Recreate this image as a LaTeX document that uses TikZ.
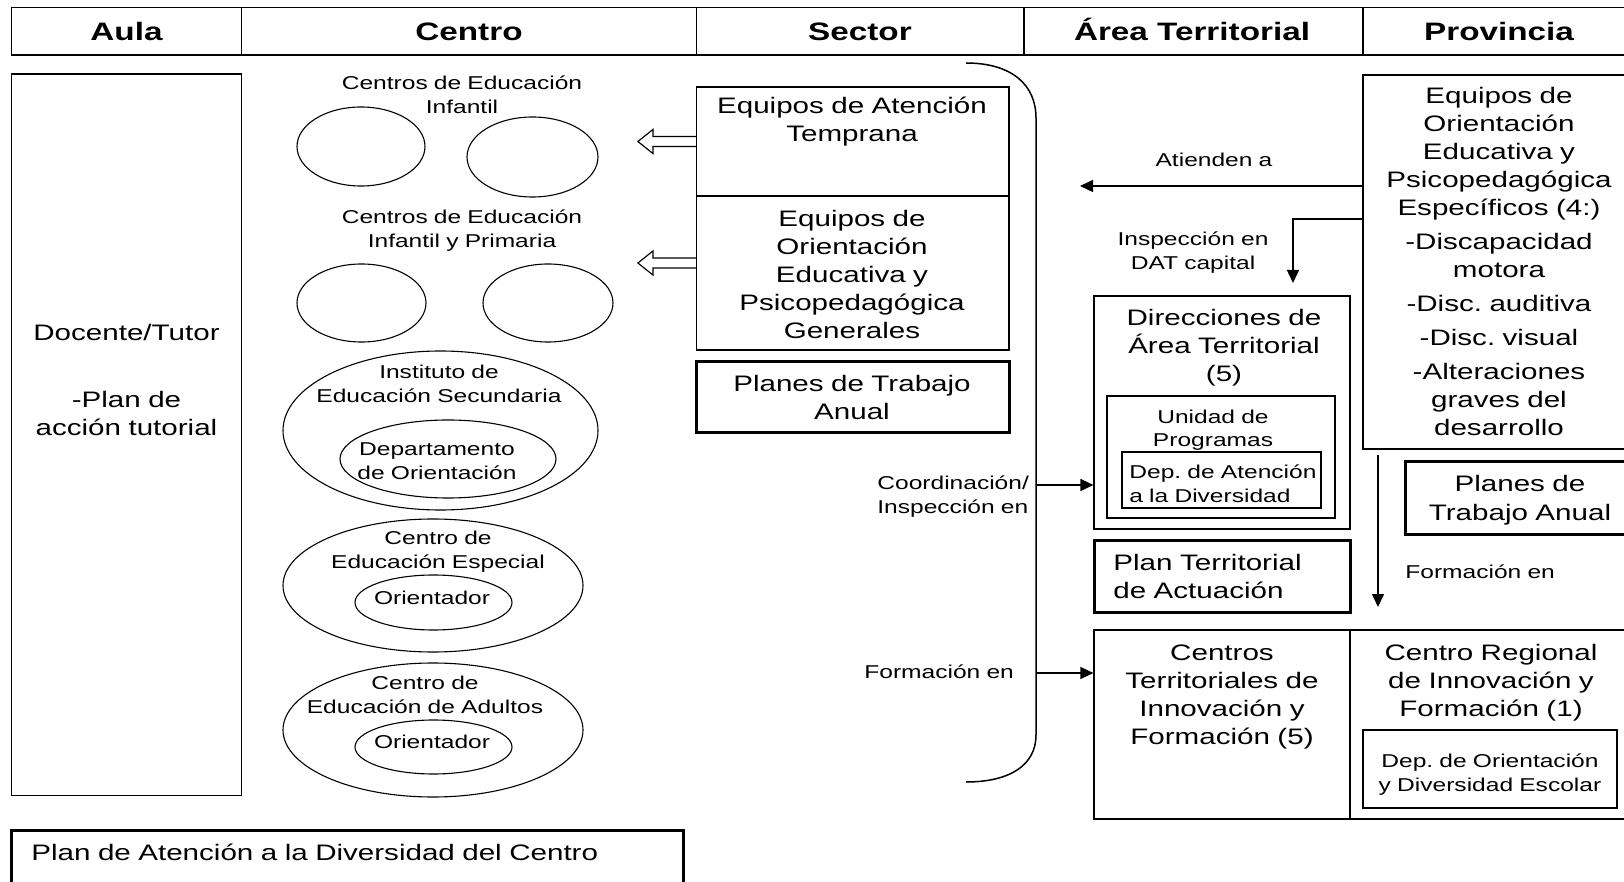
\documentclass[tikz,border=0pt]{standalone}
\usepackage{fontspec}
\setmainfont{Liberation Sans}[FakeStretch=1.32]
\usetikzlibrary{arrows.meta,shapes.geometric,fit,calc}
\frenchspacing

\tikzset{
  boxline/.style={draw, line width=0.6pt, inner sep=0pt},
  heavybox/.style={draw, line width=1.5pt, inner sep=0pt},
  oval/.style={draw, ellipse, line width=0.55pt, inner sep=0pt},
  bigtext/.style={font=\fontsize{11.2}{14}\selectfont, inner sep=0pt, anchor=base, align=center, text width=170pt},
  smalltext/.style={font=\fontsize{9.3}{12}\selectfont, inner sep=0pt, anchor=base, align=center, text width=170pt},
  lft/.style={anchor=base west, align=left, text width=320pt},
  hdr/.style={font=\fontsize{12.6}{15}\selectfont\bfseries, inner sep=0pt, anchor=base},
  link/.style={line width=0.75pt, -{Triangle[length=6.5pt,width=6pt]}},
  hollow/.style={line width=0.6pt, line join=miter},
  brace/.style={line width=0.75pt},
}

\begin{document}
\begin{tikzpicture}[x=0.5pt,y=-0.5pt]
\useasboundingbox (0,0) rectangle (1624,882);
\clip (0,0) rectangle (1624,882);

% ---------- header row ----------
\node[boxline, fit={(11.5,7.5) (241.5,55)}] (hAula) {};
\node[boxline, fit={(241.5,7.5) (696.5,55)}] (hCentro) {};
\node[boxline, fit={(696.5,7.5) (1024,55)}] (hSector) {};
\node[boxline, fit={(1024,7.5) (1363,55)}] (hArea) {};
\node[boxline, fit={(1363,7.5) (1650,55)}] (hProv) {};
\node[hdr] (tAula) at (126.5,41) {Aula};
\node[hdr] (tCentro) at (469,41) {Centro};
\node[hdr] (tSector) at (860,41) {Sector};
\node[hdr] (tArea) at (1192,41) {Área Territorial};
\node[hdr] (tProv) at (1499,41) {Provincia};

% ---------- Aula ----------
\node[boxline, fit={(11.5,74) (241.5,795.5)}] (aula) {};
\node[bigtext] (tDoc) at (126.5,341) {Docente/Tutor\\[19.5pt]-Plan de\\acción tutorial};

\node[heavybox, fit={(11.5,830) (683.5,900)}] (pad) {};
\node[bigtext, lft] (tPad) at (31,860) {Plan de Atención a la Diversidad del Centro};

% ---------- Centro ----------
\node[smalltext] (tInf) at (462,89.5) {Centros de Educación\\Infantil};
\node[oval, minimum width=64pt, minimum height=39.5pt] (ei1) at (361,146.5) {};
\node[oval, minimum width=65.5pt, minimum height=40pt] (ei2) at (532.5,157) {};

\node[smalltext] (tPri) at (462,224) {Centros de Educación\\Infantil y Primaria};
\node[oval, minimum width=64.5pt, minimum height=39pt] (ep1) at (361.5,303) {};
\node[oval, minimum width=65pt, minimum height=39pt] (ep2) at (548,303) {};

\node[oval, minimum width=157.5pt, minimum height=79.5pt] (ies) at (440.5,430.5) {};
\node[smalltext] (tIes) at (439,379) {Instituto de\\Educación Secundaria};
\node[oval, minimum width=108pt, minimum height=39pt] (dor) at (448,459) {};
\node[smalltext] (tDor) at (437,456) {Departamento\\de Orientación};

\node[oval, minimum width=150pt, minimum height=66.5pt] (cee) at (433,585.5) {};
\node[smalltext] (tCee) at (438,545) {Centro de\\Educación Especial};
\node[oval, minimum width=78.5pt, minimum height=27.5pt] (or1) at (433.5,602.5) {};
\node[smalltext] (tOr1) at (432,604) {Orientador};

\node[oval, minimum width=150pt, minimum height=67pt] (cea) at (433,730) {};
\node[smalltext] (tCea) at (425,689) {Centro de\\Educación de Adultos};
\node[oval, minimum width=78.5pt, minimum height=27pt] (or2) at (433.5,747) {};
\node[smalltext] (tOr2) at (432,748) {Orientador};

% ---------- Sector ----------
\node[boxline, fit={(696.5,87) (1009,196)}] (eat) {};
\node[boxline, fit={(696.5,196) (1009,350)}] (eog) {};
\node[bigtext] (tEat) at (852,114) {Equipos de Atención\\Temprana};
\node[bigtext] (tEog) at (852,226.5) {Equipos de\\Orientación\\Educativa y\\Psicopedagógica\\Generales};
\node[heavybox, fit={(696.5,362) (1009,433)}] (pts) {};
\node[bigtext] (tPts) at (852,392) {Planes de Trabajo\\Anual};

% open arrows pointing to the schools
\draw[hollow] (eat.west) ++(0,-5) -- ++(-43,0) -- ++(0,-7) -- ++(-15,12)
  -- ++(15,12) -- ++(0,-7) -- ++(43,0);
\draw[hollow] ($(eog.west)+(0,-10)$) ++(0,-5) -- ++(-43,0) -- ++(0,-7) -- ++(-15,12)
  -- ++(15,12) -- ++(0,-7) -- ++(43,0);

% bracket closing the sector column
\draw[brace] (966,63) .. controls (1012,63) and (1036,85) .. (1036,118)
  -- (1036,735) .. controls (1036,765) and (1010,782) .. (966,782);
\coordinate (b1) at (1036,485);
\coordinate (b2) at (1036,673);

\node[smalltext, lft] (tCoo) at (877,489.5) {Coordinación/\\Inspección en};
\node[smalltext, lft] (tFs) at (864,678.5) {Formación en};

% ---------- Área Territorial ----------
\node[boxline, fit={(1094,296) (1350,529)}] (dat) {};
\node[bigtext] (tDat) at (1224,326) {Direcciones de\\Área Territorial\\(5)};
\node[boxline, fit={(1107,396) (1335,518)}] (uni) {};
\node[smalltext] (tUni) at (1213,423) {Unidad de\\Programas};
\node[boxline, fit={(1122,452) (1321,508)}] (dad) {};
\node[smalltext, lft] (tDad) at (1129,479) {Dep. de Atención\\a la Diversidad};

\node[heavybox, fit={(1094,540) (1350,612)}] (pta) {};
\node[bigtext, lft] (tPta) at (1113,570) {Plan Territorial\\de Actuación};

\node[boxline, fit={(1094,630) (1350,819)}] (cti) {};
\node[bigtext] (tCti) at (1222,660.5) {Centros\\Territoriales de\\Innovación y\\Formación (5)};

\draw[link] (b1) -- (dat.west |- b1);
\draw[link] (b2) -- (cti.west |- b2);

% ---------- Provincia ----------
\node[boxline, fit={(1363,75) (1650,449)}] (eoe) {};
\node[bigtext] (tEoe) at (1499,104) {Equipos de\\Orientación\\Educativa y\\Psicopedagógica\\Específicos (4:)\\[3pt]-Discapacidad\\motora\\[3pt]-Disc. auditiva\\[3pt]-Disc. visual\\[3pt]-Alteraciones\\graves del\\desarrollo};

\node[heavybox, fit={(1405,462) (1650,534)}] (ppa) {};
\node[bigtext] (tPpa) at (1520,492) {Planes de\\Trabajo Anual};

\node[boxline, fit={(1350,630) (1650,819)}] (cri) {};
\node[bigtext] (tCri) at (1491,660.5) {Centro Regional\\de Innovación y\\Formación (1)};
\node[boxline, fit={(1363,730) (1617,808)}] (doe) {};
\node[smalltext] (tDoe) at (1490,767) {Dep. de Orientación\\y Diversidad Escolar};

% arrows leaving the provincial teams
\coordinate (atip) at (1080,186);
\draw[link] (eoe.west |- atip) -- (atip);
\node[smalltext] (tAti) at (1214,167) {Atienden a};

\coordinate (ibend) at (1293,219);
\coordinate (itip) at (1293,283);
\draw[link] (eoe.west |- ibend) -- (ibend) -- (itip);
\node[smalltext] (tIns) at (1193,245.5) {Inspección en\\DAT capital};

\coordinate (ftip) at (1378,607);
\draw[link, shorten <=2.5pt] (ftip |- eoe.south) -- (ftip);
\node[smalltext, lft] (tFp) at (1405,578.5) {Formación en};

\end{tikzpicture}
\end{document}
